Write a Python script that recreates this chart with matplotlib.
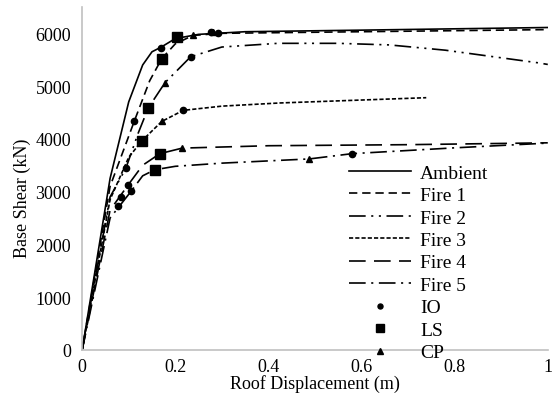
import matplotlib
matplotlib.use("Agg")
import matplotlib.pyplot as plt

plt.rcParams['font.family'] = ['Liberation Serif', 'DejaVu Serif']
plt.rcParams['lines.scale_dashes'] = False

# ---- data (roof displacement in m, base shear in kN) ----
amb_x = [0, 0.06, 0.10, 0.13, 0.15, 0.17, 0.20, 0.25, 0.35, 0.60, 1.00]
amb_y = [0, 3250, 4700, 5400, 5650, 5740, 5900, 5980, 6030, 6060, 6110]

f1_x = [0, 0.06, 0.112, 0.145, 0.171, 0.20, 0.238, 0.30, 0.60, 1.00]
f1_y = [0, 3100, 4335, 5100, 5520, 5800, 5960, 6000, 6030, 6070]

f2_x = [0, 0.06, 0.094, 0.12, 0.142, 0.178, 0.233, 0.30, 0.42, 0.55, 0.66, 0.78, 0.98, 1.00]
f2_y = [0, 2900, 3445, 4100, 4585, 5065, 5555, 5740, 5810, 5810, 5780, 5680, 5440, 5410]

f3_x = [0, 0.06, 0.10, 0.128, 0.171, 0.217, 0.30, 0.424, 0.739]
f3_y = [0, 2850, 3650, 3960, 4330, 4540, 4620, 4680, 4780]

f4_x = [0, 0.06, 0.099, 0.13, 0.167, 0.215, 0.40, 0.70, 1.00]
f4_y = [0, 2650, 3130, 3500, 3720, 3825, 3870, 3890, 3925]

f5_x = [0, 0.06, 0.105, 0.13, 0.156, 0.20, 0.30, 0.488, 0.58, 0.80, 1.00]
f5_y = [0, 2500, 3005, 3300, 3415, 3480, 3540, 3620, 3720, 3830, 3920]

io_x = [0.169, 0.112, 0.094, 0.099, 0.105, 0.084, 0.077, 0.580, 0.217, 0.233, 0.277, 0.292]
io_y = [5725, 4335, 3445, 3130, 3005, 2895, 2725, 3720, 4540, 5555, 6030, 6010]

ls_x = [0.203, 0.171, 0.142, 0.128, 0.167, 0.156]
ls_y = [5935, 5520, 4585, 3960, 3720, 3415]

cp_x = [0.178, 0.238, 0.171, 0.215, 0.488, 0.280]
cp_y = [5065, 5975, 4330, 3825, 3620, 6030]

labels = ['Ambient', 'Fire 1', 'Fire 2', 'Fire 3', 'Fire 4', 'Fire 5', 'IO', 'LS', 'CP']

fig = plt.figure(figsize=(5.55, 4.06), dpi=100)
ax = fig.add_axes([0.148, 0.1355, 0.839, 0.845])

lw = 1.2
k = 'black'
ax.plot(amb_x, amb_y, color=k, lw=lw, linestyle='-', label=labels[0])
ax.plot(f1_x, f1_y, color=k, lw=lw, linestyle=(0, (6, 3.5)), label=labels[1])
ax.plot(f2_x, f2_y, color=k, lw=lw, linestyle=(0, (12, 4, 1.5, 4, 1.5, 4)), label=labels[2])
ax.plot(f3_x, f3_y, color=k, lw=lw, linestyle=(0, (3, 1.5)), label=labels[3])
ax.plot(f4_x, f4_y, color=k, lw=lw, linestyle=(0, (12, 6)), label=labels[4])
ax.plot(f5_x, f5_y, color=k, lw=lw, linestyle=(0, (12, 4, 1.5, 4)), label=labels[5])
ax.plot(io_x, io_y, 'o', color=k, ms=4.5, linestyle='none', label=labels[6])
ax.plot(ls_x, ls_y, 's', color=k, ms=6.5, linestyle='none', label=labels[7])
ax.plot(cp_x, cp_y, '^', color=k, ms=5, linestyle='none', label=labels[8])

ax.set_xlim(0, 1)
ax.set_ylim(0, 6500)
ax.set_xticks([0, 0.2, 0.4, 0.6, 0.8, 1.0])
ax.set_xticklabels(['0', '0.2', '0.4', '0.6', '0.8', '1'])
ax.set_yticks([0, 1000, 2000, 3000, 4000, 5000, 6000])
ax.tick_params(axis='x', length=0, labelsize=13, pad=6)
ax.tick_params(axis='y', length=0, labelsize=13, pad=8)
for s in ['top', 'right']:
    ax.spines[s].set_visible(False)
for s in ['left', 'bottom']:
    ax.spines[s].set_color('#c0c0c0')
    ax.spines[s].set_linewidth(1.2)

ax.set_xlabel('Roof Displacement (m)', fontsize=13)
ax.xaxis.set_label_coords(0.5, -0.07)
ax.set_ylabel('Base Shear (kN)', fontsize=13)
ax.yaxis.set_label_coords(-0.11, 0.446)

leg = ax.legend(loc='upper left', frameon=False, fontsize=14, handlelength=3.2,
                labelspacing=0.25, handletextpad=0.45, borderaxespad=0, borderpad=0,
                markerscale=0.8)
leg.set_bbox_to_anchor((349 / 555, 1 - 165 / 406), transform=fig.transFigure)

fig.savefig('out.png', dpi=100)
